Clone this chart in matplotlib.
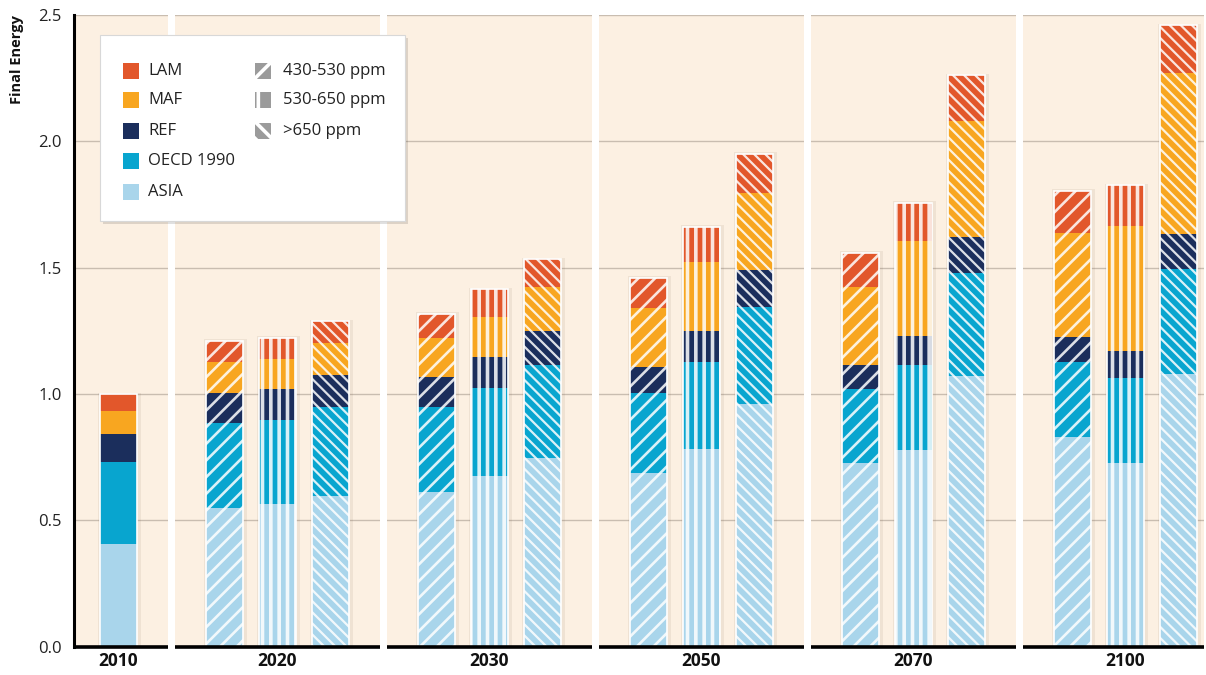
import matplotlib
matplotlib.use('Agg')
import matplotlib.pyplot as plt
from matplotlib.patches import Rectangle
import numpy as np

plt.rcParams['font.family'] = ['Open Sans', 'DejaVu Sans']
plt.rcParams['hatch.linewidth'] = 1.8

# ---------------- data ----------------
years = ['2010', '2020', '2030', '2050', '2070', '2100']
scenarios = ['430-530 ppm', '530-650 ppm', '>650 ppm']
regions = ['ASIA', 'OECD 1990', 'REF', 'MAF', 'LAM']

# bar order: 2010 (no scenario) then the three scenarios for each later year
bar_group = [0, 1, 1, 1, 2, 2, 2, 3, 3, 3, 4, 4, 4, 5, 5, 5]
bar_scen = [-1, 0, 1, 2, 0, 1, 2, 0, 1, 2, 0, 1, 2, 0, 1, 2]

ASIA = [0.406, 0.550, 0.565, 0.596, 0.614, 0.677, 0.746, 0.689, 0.781, 0.960,
        0.727, 0.778, 1.071, 0.829, 0.726, 1.078]
OECD = [0.325, 0.334, 0.332, 0.351, 0.336, 0.346, 0.369, 0.314, 0.344, 0.385,
        0.293, 0.337, 0.408, 0.296, 0.339, 0.417]
REF = [0.109, 0.121, 0.123, 0.128, 0.118, 0.125, 0.136, 0.105, 0.124, 0.146,
       0.095, 0.114, 0.142, 0.099, 0.106, 0.137]
MAF = [0.092, 0.120, 0.117, 0.126, 0.152, 0.158, 0.171, 0.231, 0.272, 0.306,
       0.308, 0.376, 0.459, 0.413, 0.495, 0.637]
LAM = [0.068, 0.085, 0.086, 0.087, 0.097, 0.108, 0.111, 0.121, 0.141, 0.153,
       0.136, 0.152, 0.182, 0.168, 0.160, 0.191]

yticks = [0.0, 0.5, 1.0, 1.5, 2.0, 2.5]

# ---------------- style ----------------
colors = {'ASIA': '#A9D5EB', 'OECD 1990': '#08A5CF', 'REF': '#1B2E5C',
          'MAF': '#F8A620', 'LAM': '#E2572B'}
hatches = ['//', '||', '\\\\\\']
hatch_lw = [1.9, 2.6, 1.6]
bg = '#FCF0E2'
series = {'ASIA': ASIA, 'OECD 1990': OECD, 'REF': REF, 'MAF': MAF, 'LAM': LAM}

W, H = 1206, 675
fig = plt.figure(figsize=(W / 100, H / 100), dpi=100)
ax_l, ax_r, ax_b, ax_t = 74, 1204, 646.7, 15
ax = fig.add_axes([ax_l / W, 1 - ax_b / H, (ax_r - ax_l) / W, (ax_b - ax_t) / H])
unit_px = 53.0
xmax = (ax_r - ax_l) / unit_px
ax.set_xlim(0, xmax)
ax.set_ylim(0, 2.5)
ax.set_facecolor(bg)

# group layout
group_center = [0.84] + [3.84 + 4 * k for k in range(5)]
gap_centers = [group_center[g] - 2.0 for g in range(1, 6)]
gap_half = 0.07
bar_w = 0.70

x_pos = []
for g, s in zip(bar_group, bar_scen):
    off = 0 if s < 0 else (s - 1)
    x_pos.append(group_center[g] + off)
x_pos = np.array(x_pos)

# gridlines
for yv in yticks[1:]:
    ax.axhline(yv, color='#C9BDB0', lw=1.0, zorder=0.5)

# white gaps between panels
for gc in gap_centers:
    ax.axvspan(gc - gap_half, gc + gap_half, color='white', lw=0, zorder=1)

# bars
totals = np.sum([series[r] for r in regions], axis=0)
ax.bar(x_pos + 0.02, totals + 0.006, width=bar_w + 0.10, color=(0.45, 0.35, 0.25, 0.09),
       lw=0, zorder=2)
bottom = np.zeros(len(x_pos))
for r in regions:
    vals = np.array(series[r])
    for i in range(len(x_pos)):
        s = bar_scen[i]
        with plt.rc_context({'hatch.linewidth': hatch_lw[s] if s >= 0 else 1.0}):
            cont = ax.bar(x_pos[i], vals[i], bottom=bottom[i], width=bar_w,
                          color=colors[r],
                          edgecolor=(1, 1, 1, 0.85) if s >= 0 else 'white',
                          linewidth=0.0, hatch=hatches[s] if s >= 0 else None, zorder=3)
        if s >= 0:
            for p in cont.patches:
                if hasattr(p, 'set_hatch_linewidth'):
                    p.set_hatch_linewidth(hatch_lw[s])
    bottom += vals
# white outline of bars
ax.bar(x_pos, totals, width=bar_w, fill=False, edgecolor='white', lw=1.2, zorder=4)

# baseline segments
starts = [0] + [gc + gap_half for gc in gap_centers]
ends = [gc - gap_half for gc in gap_centers] + [xmax]
for s_, e_ in zip(starts, ends):
    ax.plot([s_, e_], [0, 0], color='black', lw=2.6, solid_capstyle='butt',
            clip_on=False, zorder=6)

# axes cosmetics
for sp in ['top', 'right', 'bottom']:
    ax.spines[sp].set_visible(False)
ax.spines['left'].set_linewidth(2.2)
ax.spines['left'].set_zorder(6)
ax.set_yticks(yticks)
ax.set_yticklabels([f'{v:.1f}' for v in yticks], fontsize=12, color='#222222')
ax.tick_params(axis='y', length=0, pad=9)
ax.set_xticks(group_center)
ax.set_xticklabels(years, fontsize=12.5, fontweight='bold', color='#111111')
ax.tick_params(axis='x', length=0, pad=4)
fig.text(17 / W, 1 - 60 / H, 'Final Energy', rotation=90, ha='center', va='center',
         fontsize=10.5, fontweight='bold', color='#111111')

# ---------------- legend (manual) ----------------
def ax_xy(px, py):
    return (px - ax_l) / (ax_r - ax_l), (ax_b - py) / (ax_b - ax_t)

lx0, ly0 = ax_xy(100, 221)
lx1, ly1 = ax_xy(405, 35)
sx, sy = 3 / (ax_r - ax_l), 3 / (ax_b - ax_t)
ax.add_patch(Rectangle((lx0 + sx, ly0 - sy), lx1 - lx0, ly1 - ly0, transform=ax.transAxes,
                       facecolor=(0, 0, 0, 0.12), lw=0, zorder=7))
ax.add_patch(Rectangle((lx0, ly0), lx1 - lx0, ly1 - ly0, transform=ax.transAxes,
                       facecolor='white', edgecolor='#D8D8D8', lw=0.8, zorder=8))

row_y = [71, 100, 131, 161, 192]
sq = 16
leg_regions = ['LAM', 'MAF', 'REF', 'OECD 1990', 'ASIA']
for i, r in enumerate(leg_regions):
    x0, y0 = ax_xy(123, row_y[i] + sq / 2)
    ax.add_patch(Rectangle((x0, y0), sq / (ax_r - ax_l), sq / (ax_b - ax_t),
                           transform=ax.transAxes, facecolor=colors[r], lw=0, zorder=9))
    tx, ty = ax_xy(148, row_y[i])
    ax.text(tx, ty, r, transform=ax.transAxes, fontsize=12, va='center', ha='left',
            color='#222222', zorder=9)
for i, sname in enumerate(scenarios):
    x0, y0 = ax_xy(255, row_y[i] + sq / 2)
    with plt.rc_context({'hatch.linewidth': 2.6}):
        rp = Rectangle((x0, y0), sq / (ax_r - ax_l), sq / (ax_b - ax_t),
                       transform=ax.transAxes, facecolor='#9B9B9B', edgecolor='white',
                       lw=0, hatch=['/', '|', '\\\\'][i], zorder=9)
    if hasattr(rp, 'set_hatch_linewidth'):
        rp.set_hatch_linewidth(2.6)
    ax.add_patch(rp)
    tx, ty = ax_xy(283, row_y[i])
    ax.text(tx, ty, sname, transform=ax.transAxes, fontsize=12, va='center', ha='left',
            color='#222222', zorder=9)

fig.savefig('out.png', dpi=100, facecolor='white')
